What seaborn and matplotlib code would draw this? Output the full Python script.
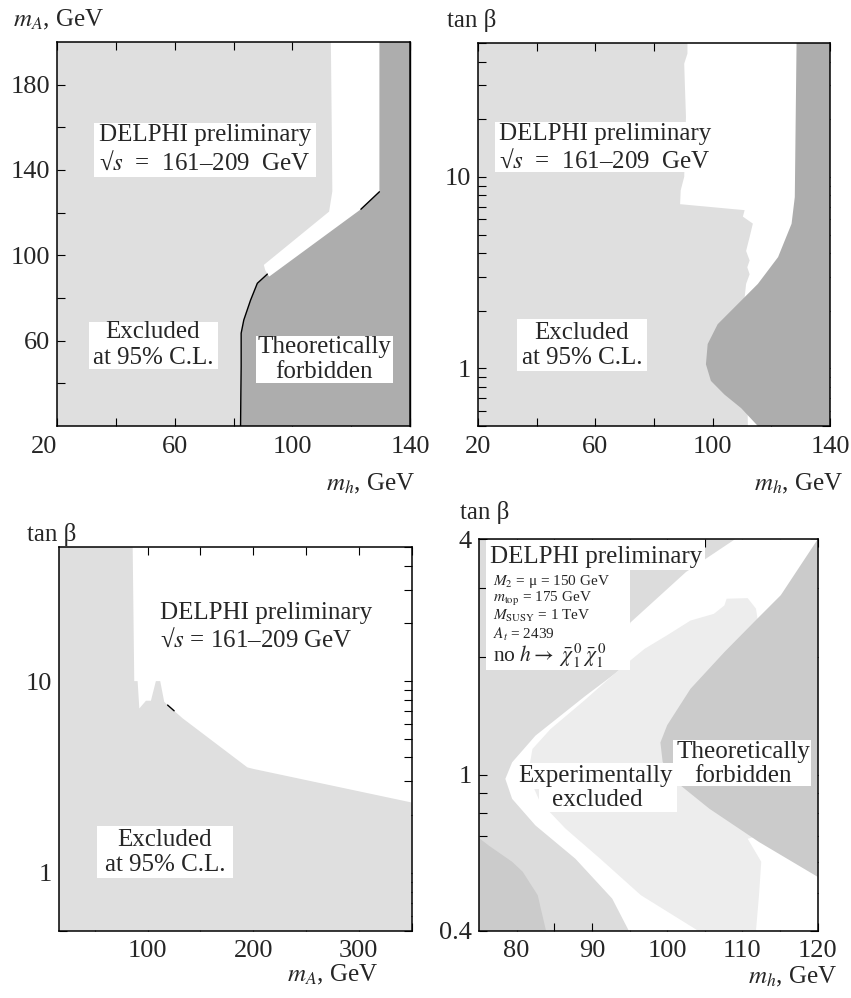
import numpy as np
import matplotlib
matplotlib.use("Agg")
import matplotlib.pyplot as plt
from matplotlib.patches import Rectangle
from matplotlib.ticker import NullFormatter, NullLocator, LogLocator
import seaborn as sns

sns.set_theme(style="ticks")
plt.rcParams["font.family"] = ["Liberation Serif", "DejaVu Serif"]
plt.rcParams["mathtext.fontset"] = "stix"
plt.rcParams["axes.linewidth"] = 1.0
plt.rcParams["axes.edgecolor"] = "black"

# fill colours
LIGHT = "#dfdfdf"
DARK = "#adadad"
D_MID = "#dcdcdc"
D_LIGHT = "#ededed"
D_DARK = "#cbcbcb"

# ---------- (a) m_h vs m_A ----------
a_band_mh = [113.1, 113.4, 113.6, 112.5, 90.3, 90.8, 92.1]
a_band_mA = [200, 160, 130, 120.5, 95.5, 93.0, 90.0]
a_theo_mh = [82.4, 82.5, 82.6, 82.6, 83.5, 85.8, 88.1, 91.5, 92.1, 123.3, 129.6, 129.6]
a_theo_mA = [20, 35, 48, 63.5, 69.7, 79, 86.9, 91.2, 90.0, 121.6, 129.8, 200]

# ---------- (b) m_h vs tan(beta) ----------
b_excl_mh = [91.4, 91.4, 90.3, 90.5, 90.9, 90.3, 89.1, 88.9, 110.9, 110.3, 113.7,
             112.6, 111.4, 112.6, 111.8, 112.6, 111.4, 110.9, 111.5, 112.0]
b_excl_tb = [50, 44, 39, 31, 20.6, 10, 8.5, 7.2, 6.7, 6.2, 5.7,
             4.85, 4.1, 3.66, 3.37, 3.1, 2.76, 2.35, 1.5, 0.5]
b_theo_mh = [128.6, 128.3, 128.0, 126.9, 122.3, 115.4, 108.6, 101.7, 98.3, 97.7,
             99.4, 104.0, 109.7, 115.4]
b_theo_tb = [50, 20, 7.85, 5.69, 3.81, 2.76, 2.17, 1.70, 1.34, 1.05,
             0.86, 0.73, 0.62, 0.5]

# ---------- (c) m_A vs tan(beta) ----------
c_excl_mA = [85.8, 87.3, 90.5, 92.1, 98.4, 103.1, 107.8, 111.9, 115.7, 118.9,
             125.1, 133.1, 194.5, 200.8, 350]
c_excl_tb = [50, 10, 10, 7.2, 7.9, 7.9, 10, 10, 7.8, 7.5,
             7.0, 6.4, 3.55, 3.48, 2.33]

# ---------- (d) m_h vs tan(beta), no h -> chi chi ----------
d_outer_mh = [109.0, 102.5, 95.1, 93.8, 89.1, 82.5, 79.4, 78.5, 79.4, 82.5, 87.8, 92.7, 94.9]
d_outer_tb = [4.0, 3.3, 2.45, 1.86, 1.59, 1.26, 1.077, 0.977, 0.869, 0.743, 0.611, 0.483, 0.4]
d_inner_mh = [104.1, 96.5, 91.1, 86.5, 83.1, 81.5, 82.1, 84.5, 89.0, 93.5, 97.0, 100.0,
              103.1, 106.2, 107.6, 107.9, 110.7, 111.8, 112.0]
d_inner_tb = [0.4, 0.493, 0.611, 0.729, 0.854, 1.0, 1.165, 1.31, 1.55, 1.85, 2.1, 2.275,
              2.48, 2.58, 2.71, 2.82, 2.83, 2.66, 2.51]
d_gap_mh = [110.7, 112.5, 112.2, 111.8]
d_gap_tb = [0.687, 0.6, 0.493, 0.4]
d_theo_mh = [120, 115.1, 112.0, 107.6, 103.1, 100.0, 99.1, 99.4, 100.7, 105.6, 112.2, 120]
d_theo_tb = [4.0, 2.88, 2.51, 2.06, 1.66, 1.34, 1.21, 1.08, 0.977, 0.82, 0.674, 0.549]
d_corner_mh = [75, 76.3, 79.4, 80.8, 82.8, 83.9]
d_corner_tb = [0.69, 0.66, 0.60, 0.566, 0.493, 0.4]

W, H = 851, 998
fig = plt.figure(figsize=(W / 100, H / 100), dpi=100)


def axrect(l, r, t, b):
    return [l / W, 1 - b / H, (r - l) / W, (b - t) / H]


def ftext(x, y, s, **kw):
    kw.setdefault("fontsize", 18)
    kw.setdefault("va", "center")
    return fig.text(x / W, 1 - y / H, s, **kw)


def wbox(l, t, r, b):
    fig.add_artist(Rectangle((l / W, 1 - b / H), (r - l) / W, (b - t) / H,
                             transform=fig.transFigure, fc="white", ec="none", zorder=2))


def style(ax):
    ax.tick_params(which="both", direction="in", top=True, right=True,
                   length=6, width=0.8, labelsize=19, color="black")
    ax.tick_params(axis="x", pad=7)
    ax.tick_params(axis="y", pad=5)
    for s in ax.spines.values():
        s.set_linewidth(1.1)


def black(ax, x, y):
    sns.lineplot(x=x, y=y, sort=False, estimator=None, color="black", lw=1.0, ax=ax)


ROOT_S = "√" + r"$s$"

# ---- panel (a)
ax1 = fig.add_axes(axrect(57, 410, 42, 426))
ax1.set_facecolor(LIGHT)
ax1.fill(a_band_mh + [140, 140], a_band_mA + [85, 200], color="white", lw=0)
ax1.fill(a_theo_mh + [140, 140], a_theo_mA + [200, 20], color=DARK, lw=0)
black(ax1, a_theo_mh[:8], a_theo_mA[:8])
black(ax1, a_theo_mh[9:11], a_theo_mA[9:11])
ax1.set_xlim(20, 140)
ax1.set_ylim(20, 200)
ax1.set_xticks(range(20, 141, 20))
ax1.set_xticklabels(["20", "", "60", "", "100", "", "140"])
ax1.set_yticks(range(40, 181, 20))
ax1.set_yticklabels(["", "60", "", "100", "", "140", "", "180"])
style(ax1)
ax1.tick_params(right=False)
ax1.get_xticklabels()[0].set_ha("right")
sec = ax1.secondary_yaxis("right")
sec.set_yticks(np.linspace(40, 180, 9))
sec.tick_params(direction="in", length=6, width=0.8, labelright=False)

# ---- panel (b)
ax2 = fig.add_axes(axrect(478, 830, 43, 426))
ax2.set_facecolor(LIGHT)
ax2.fill(b_excl_mh + [140, 140], b_excl_tb + [0.5, 50], color="white", lw=0)
ax2.fill(b_theo_mh + [140, 140], b_theo_tb + [0.5, 50], color=DARK, lw=0)
ax2.set_yscale("log")
ax2.set_xlim(20, 140)
ax2.set_ylim(0.5, 50)
ax2.set_xticks(range(20, 141, 20))
ax2.set_xticklabels(["20", "", "60", "", "100", "", "140"])
ax2.set_yticks([1, 10])
ax2.set_yticklabels(["1", "10"])
ax2.yaxis.set_minor_locator(LogLocator(base=10, subs=range(2, 10)))
ax2.yaxis.set_minor_formatter(NullFormatter())
style(ax2)

# ---- panel (c)
ax3 = fig.add_axes(axrect(59, 411.5, 547, 930.7))
ax3.set_facecolor("white")
ax3.fill(c_excl_mA + [350, 16, 16], c_excl_tb + [0.5, 0.5, 50], color=LIGHT, lw=0)
black(ax3, c_excl_mA[9:11], c_excl_tb[9:11])
ax3.set_yscale("log")
ax3.set_xlim(16, 350)
ax3.set_ylim(0.5, 50)
ax3.set_xticks(range(50, 351, 50))
ax3.set_xticklabels(["", "100", "", "200", "", "300", ""])
ax3.set_yticks([1, 10])
ax3.set_yticklabels(["1", "10"])
ax3.yaxis.set_minor_locator(LogLocator(base=10, subs=range(2, 10)))
ax3.yaxis.set_minor_formatter(NullFormatter())
style(ax3)

# ---- panel (d)
ax4 = fig.add_axes(axrect(479, 817.7, 539.3, 930.7))
ax4.set_facecolor(D_MID)
ax4.fill(d_corner_mh + [75], d_corner_tb + [0.4], color=D_DARK, lw=0)
ax4.fill(d_outer_mh + [120, 120], d_outer_tb + [0.4, 4.0], color="white", lw=0)
ax4.fill(d_inner_mh + [118, 118] + d_gap_mh,
         d_inner_tb + [2.0, 0.75] + d_gap_tb, color=D_LIGHT, lw=0)
ax4.fill(d_theo_mh, d_theo_tb, color=D_DARK, lw=0)
ax4.set_yscale("log")
ax4.set_xlim(75, 120)
ax4.set_ylim(0.4, 4)
ax4.set_xticks(range(80, 121, 5))
ax4.set_xticklabels(["80", "", "90", "", "100", "", "110", "", "120"])
ax4.set_yticks([0.4, 0.5, 0.6, 0.7, 0.8, 0.9, 1, 2, 3, 4])
ax4.set_yticklabels(["0.4", "", "", "", "", "", "1", "", "", "4"])
ax4.yaxis.set_minor_locator(NullLocator())
style(ax4)

for ax in (ax1, ax2, ax3, ax4):
    ax.set_xlabel("")
    ax.set_ylabel("")
    if ax.get_legend():
        ax.get_legend().remove()

# ---- axis titles
ftext(13, 20, r"$m_A$, GeV", ha="left")
ftext(415, 484, r"$m_h$, GeV", ha="right")
ftext(447, 20, "tan β", ha="left")
ftext(843, 484, r"$m_h$, GeV", ha="right")
ftext(27, 534, "tan β", ha="left")
ftext(378, 975, r"$m_A$, GeV", ha="right")
ftext(460, 512, "tan β", ha="left")
ftext(837, 977, r"$m_h$, GeV", ha="right")

# ---- annotations, panel (a)
wbox(94, 123, 316, 177)
ftext(205, 135, "DELPHI preliminary", ha="center", zorder=3)
ftext(205, 163, ROOT_S + "  =  161–209  GeV", ha="center", zorder=3)
wbox(89, 322, 218, 369)
ftext(153, 332, "Excluded", ha="center", zorder=3)
ftext(153, 358, "at 95% C.L.", ha="center", zorder=3)
wbox(256, 336, 393, 383)
ftext(324, 347, "Theoretically", ha="center", zorder=3)
ftext(324, 372, "forbidden", ha="center", zorder=3)

# ---- annotations, panel (b)
wbox(495, 122, 712, 172)
ftext(605, 134, "DELPHI preliminary", ha="center", zorder=3)
ftext(605, 161, ROOT_S + "  =  161–209  GeV", ha="center", zorder=3)
wbox(517, 319, 647, 371)
ftext(582, 333, "Excluded", ha="center", zorder=3)
ftext(582, 358, "at 95% C.L.", ha="center", zorder=3)

# ---- annotations, panel (c)
ftext(160, 613, "DELPHI preliminary", ha="left", zorder=3)
ftext(160, 640, ROOT_S + " = 161–209 GeV", ha="left", zorder=3)
wbox(97, 826, 233, 878)
ftext(165, 840, "Excluded", ha="center", zorder=3)
ftext(165, 865, "at 95% C.L.", ha="center", zorder=3)

# ---- annotations, panel (d)
wbox(486, 540, 705, 570)
wbox(486, 569, 630, 670)
ftext(596, 557, "DELPHI preliminary", ha="center", zorder=3)
ftext(493, 581, r"$M_2$ = μ = 150 GeV", ha="left", fontsize=11, zorder=3)
ftext(493, 599, r"$m_{\rm top}$ = 175 GeV", ha="left", fontsize=11, zorder=3)
ftext(493, 616, r"$M_{\rm SUSY}$ = 1 TeV", ha="left", fontsize=11, zorder=3)
ftext(493, 634, r"$A_t$ = 2439", ha="left", fontsize=11, zorder=3)
ftext(493, 656, r"no $h \rightarrow\ \bar{\chi}_1^{\,0}\,\bar{\chi}_1^{\,0}$",
      ha="left", fontsize=15.5, zorder=3)
wbox(514, 763, 677, 789)
wbox(539, 788, 677, 812)
ftext(595, 776, "Experimentally", ha="center", zorder=3)
ftext(597, 800, "excluded", ha="center", zorder=3)
wbox(673, 740, 811, 786)
ftext(743, 752, "Theoretically", ha="center", zorder=3)
ftext(743, 776, "forbidden", ha="center", zorder=3)

fig.savefig("out.png", dpi=100)
